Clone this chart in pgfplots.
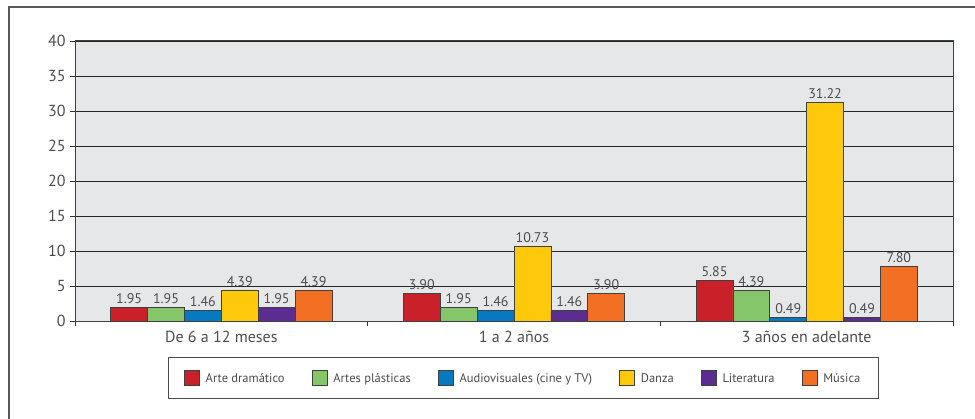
\documentclass[border=0pt]{standalone}
\usepackage{pgfplots}
\pgfplotsset{compat=1.18}
\usepackage{fontspec}
\setmainfont{PT Sans}

\definecolor{cRed}{HTML}{C9202A}
\definecolor{cGreen}{HTML}{86C66A}
\definecolor{cBlue}{HTML}{0579C2}
\definecolor{cYellow}{HTML}{FFC90B}
\definecolor{cPurple}{HTML}{5C2D91}
\definecolor{cOrange}{HTML}{F26F23}
\definecolor{plotbg}{HTML}{E6E7E8}
\definecolor{txt}{HTML}{4D4D4D}

\begin{document}
\begin{tikzpicture}
\useasboundingbox (0,0) rectangle (975bp,419bp);
\draw[line width=1.6bp, draw=black!65] (9bp,0) -- (9bp,412bp) -- (975bp,412bp);
\begin{axis}[
    at={(75bp,98bp)}, anchor=south west,
    scale only axis, width=878bp, height=280bp,
    axis background/.style={fill=plotbg},
    ybar=0pt, bar width=0.126,
    xmin=-0.5, xmax=2.5, ymin=0, ymax=40,
    xtick={0,1,2},
    xticklabels={De 6 a 12 meses, 1 a 2 años, 3 años en adelante},
    minor xtick={-0.5,0.5,1.5,2.5},
    major x tick style={draw=none},
    minor x tick style={draw=black!80, line width=0.8bp},
    ytick={0,5,...,40},
    y tick style={draw=black!80, line width=0.8bp},
    tick pos=left,
    tick align=outside,
    major tick length=5bp, minor tick length=5bp,
    ymajorgrids,
    major grid style={draw=black!85, line width=0.8bp},
    axis line style={draw=black!75, line width=1bp},
    tick label style={font=\fontsize{16bp}{19bp}\selectfont, text=txt},
    yticklabel style={xshift=-1bp},
    xticklabel style={yshift=-2bp},
    /pgf/number format/assume math mode=true,
    nodes near coords,
    nodes near coords style={font=\fontsize{14bp}{16bp}\selectfont, text=txt,
        /pgf/number format/.cd, fixed, fixed zerofill, precision=2, assume math mode=true},
    every axis plot/.append style={draw=black!75, line width=0.7bp},
    legend columns=6,
    legend style={at={(0.5105,-0.2036)}, anchor=center, draw=black!70, line width=1bp,
        font=\fontsize{12.5bp}{15bp}\selectfont, text=txt,
        inner xsep=16bp, inner ysep=13bp,
        /tikz/every even column/.append style={column sep=25bp}},
    legend image code/.code={\draw[#1, line width=0.7bp] (0bp,-7bp) rectangle (15bp,8bp);
        \path (19bp,0bp);},
]
\addplot[fill=cRed] coordinates {(0,1.95) (1,3.90) (2,5.85)};
\addplot[fill=cGreen] coordinates {(0,1.95) (1,1.95) (2,4.39)};
\addplot[fill=cBlue] coordinates {(0,1.46) (1,1.46) (2,0.49)};
\addplot[fill=cYellow] coordinates {(0,4.39) (1,10.73) (2,31.22)};
\addplot[fill=cPurple] coordinates {(0,1.95) (1,1.46) (2,0.49)};
\addplot[fill=cOrange] coordinates {(0,4.39) (1,3.90) (2,7.80)};
\legend{Arte dramático, Artes plásticas, Audiovisuales (cine y TV), Danza, Literatura, Música}
\end{axis}
\end{tikzpicture}
\end{document}
